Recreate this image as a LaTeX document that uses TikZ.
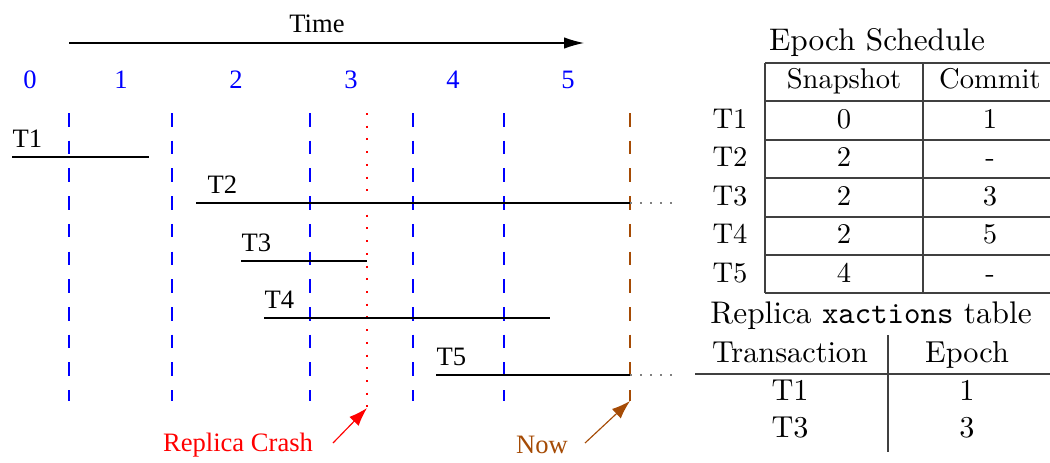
\documentclass[tikz,border=0pt]{standalone}
\usepackage{fontspec}
\newfontfamily\timesfont{Liberation Serif}
\usetikzlibrary{arrows.meta, positioning}
\definecolor{nowbrown}{RGB}{165,75,5}

\begin{document}
\begin{tikzpicture}[x=0.35pt, y=-0.35pt,
		tfont/.style={font=\timesfont\fontsize{9.3}{11}\selectfont, inner sep=0pt},
		epochline/.style={line width=0.7pt, dash pattern=on 4.75pt off 4.95pt},
		xact/.style={line width=0.75pt},
		openend/.style={gray, line width=0.5pt, dash pattern=on 0.6pt off 2.9pt},
		pointer/.style={line width=0.4pt, -{Latex[length=6.5pt,width=4.5pt]}},
		cell/.style={font=\fontsize{10}{12}\selectfont, anchor=base, inner sep=0pt},
		caption/.style={font=\fontsize{10.95}{13}\selectfont, anchor=base, inner sep=0pt},
		rcell/.style={font=\fontsize{10.6}{12}\selectfont, anchor=base, inner sep=0pt},
		rule/.style={black!75, line width=0.5pt}]
	\useasboundingbox (0,0) rectangle (1050,462);

	\node[tfont, anchor=base] (time) at (317,32) {Time};
	\draw[line width=0.4pt, -{Latex[length=7pt,width=4pt]}] (69,43) -- (584,43);

	\foreach \e/\x in {0/30,1/121,2/236,3/351,4/453,5/568}{
		\node[tfont, text=blue] (e\e) at (\x,80) {\e};
	}
	\foreach \x in {69,172,310,413,504}{
		\draw[epochline, blue] (\x,113) -- (\x,401);
	}
	\draw[red, line width=0.7pt, dash pattern=on 0.7pt off 3.75pt] (367,113) -- (367,408) coordinate (crash);
	\draw[epochline, nowbrown] (630,113) -- (630,401) coordinate (now);

	\foreach \t/\a/\b/\y/\lx in {T1/12/149/157/12, T2/196/630/203/207, T3/241/367/261/241, T4/264/550/318/264, T5/436/630/375/436}{
		\draw[xact] (\a,\y) coordinate (\t s) -- (\b,\y) coordinate (\t e);
		\node[tfont, anchor=base west] (\t lab) at (\lx,{\y-10}) {\t};
	}
	\draw[openend] (T2e) -- (673,203) coordinate (T2open);
	\draw[openend] (T5e) -- (673,375) coordinate (T5open);

	\node[tfont, text=red] (crashlab) at (238,445) {Replica Crash};
	\coordinate (crashfrom) at (333,443);
	\draw[pointer, red] (crashfrom) -- (crash);
	\node[tfont, text=nowbrown] (nowlab) at (542,445) {Now};
	\coordinate (nowfrom) at (585,443);
	\draw[pointer, nowbrown] (nowfrom) -- (now);

	% epoch schedule
	\node[caption] (sched) at (877,50) {Epoch Schedule};
	\foreach \y in {63,101,140,178,217,255,293}{
		\draw[rule] (765,\y) -- (1050,\y);
	}
	\draw[rule] (765,63) -- (765,293);
	\draw[rule] (923,63) -- (923,293);
	\node[cell] (snap) at (844,88) {Snapshot};
	\node[cell] (commit) at (990,88) {Commit};
	\foreach [count=\i] \s/\c in {0/1, 2/-, 2/3, 2/5, 4/-}{
		\node[cell] (r\i) at (730,{128+38.5*(\i-1)}) {T\i};
		\node[cell] (s\i) at (844,{128+38.5*(\i-1)}) {\s};
		\node[cell] (c\i) at (990,{128+38.5*(\i-1)}) {\c};
	}

	% replica table
	\node[caption] (xtab) at (871,323) {Replica \texttt{xactions} table};
	\node[rcell] (xhead) at (790,362) {Transaction};
	\node[rcell] (ehead) at (967,362) {Epoch};
	\draw[rule] (695,374) -- (1050,374);
	\draw[rule] (888,335) -- (888,452);
	\node[rcell] (xa) at (790,400) {T1};
	\node[rcell] (ea) at (967,400) {1};
	\node[rcell] (xb) at (790,437) {T3};
	\node[rcell] (eb) at (967,437) {3};
\end{tikzpicture}
\end{document}
